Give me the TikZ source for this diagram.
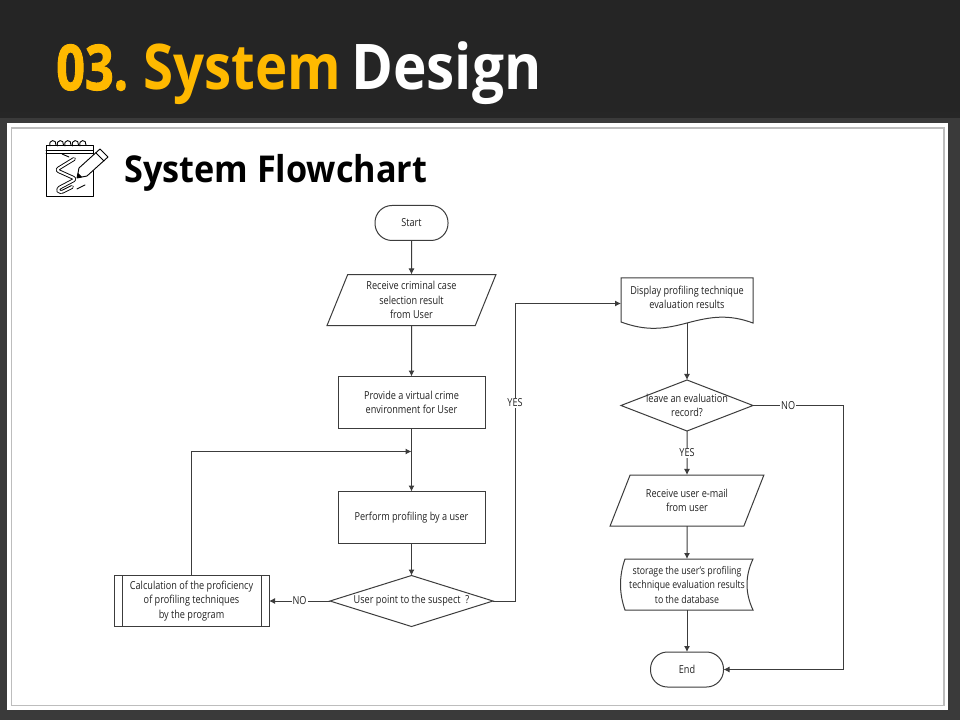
\documentclass[tikz,border=0pt]{standalone}
\usepackage{fontspec}
\setmainfont[FakeStretch=0.83]{Open Sans}
\newfontfamily\titlefont[FakeStretch=0.866]{Open Sans Bold}
\newfontfamily\designfont[FakeStretch=0.9]{Open Sans Bold}
\newfontfamily\subfont[FakeStretch=0.925]{Open Sans Bold}
\newfontfamily\numfont[FakeStretch=0.8,FakeBold=1.5]{Open Sans Bold}
\usetikzlibrary{arrows.meta,positioning,calc,shapes.geometric}
\definecolor{bandgray}{HTML}{252525}
\definecolor{basegray}{HTML}{3A3A3A}
\definecolor{rimgray}{HTML}{BDBDBD}
\definecolor{amber}{HTML}{FFB900}
\definecolor{linegray}{HTML}{3C3C3C}
\definecolor{textgray}{HTML}{222222}

\begin{document}
\begin{tikzpicture}[
  x=1pt, y=1pt,
  base/.style={draw=linegray, line width=1pt, align=center, text=textgray, inner sep=0pt, outer sep=0pt, font=\fontsize{11}{14.5}\selectfont},
  term/.style={base, rounded corners=17pt, minimum width=73pt, minimum height=35pt},
  proc/.style={base, minimum width=147pt, minimum height=52pt},
  sub/.style={base, minimum width=155pt, minimum height=51pt},
  dec/.style={base, diamond, aspect=3, minimum height=51pt, inner sep=-14pt},
  io/.style={base, trapezium, trapezium left angle=66.7, trapezium right angle=113.3, trapezium stretches=true, inner xsep=14pt, minimum height=51pt},
  plain/.style={base, draw=none},
  arr/.style={-{Latex[length=6pt,width=6pt]}, draw=linegray, line width=1pt},
  lbl/.style={fill=white, inner sep=1pt, text=textgray, font=\fontsize{11}{12}\selectfont},
  head/.style={inner sep=0pt, anchor=base west},
  icon/.style={black, line width=0.9pt, line cap=round, line join=round}
]
\useasboundingbox (0,0) rectangle (960,720);

% backdrop
\fill[basegray] (0,0) rectangle (960,720);
\fill[bandgray] (0,720) rectangle (960,612);
\fill[top color=bandgray, bottom color=black!85] (0,612) rectangle (960,602);
\fill[white] (7,10) rectangle (948,597);
\draw[rimgray, line width=1.2pt] (11.5,14.5) rectangle (944,592);

% title
\node[head, text=amber, font=\numfont\fontsize{63}{63}\selectfont] (num) at (56,630) {03.};
\node[head, text=amber, font=\titlefont\fontsize{63}{63}\selectfont] (sys) at (143,630) {System};
\node[head, text=white, font=\designfont\fontsize{63}{63}\selectfont] (des) at (351,630) {Design};
\node[head, text=black, font=\subfont\fontsize{37}{37}\selectfont] (subt) at (124,537) {System Flowchart};

% notepad icon
\draw[icon, fill=white] (46,524) rectangle (93,575);
\draw[icon] (46,570) -- (93,570) (46,567) -- (93,567);
\foreach \i in {0,1,2,3,4}
  \draw[icon] ({50+7.5*\i},574) .. controls ({48+7.5*\i},581) and ({57+7.5*\i},581) .. ({56+7.5*\i},575);
\draw[icon, double=white, double distance=2pt, rounded corners=3pt] (74,561) -- (56,550) -- (76,541) -- (57,531) -- (60,527) -- (72,533);
\draw[icon] (62,566) -- (69,563) (77,531) -- (85,535);
\draw[icon, fill=white] (77,542) -- (79,552) -- (100,571) -- (108,563) -- (87,544) -- cycle;
\draw[icon] (96,567) -- (104,559);
\fill[black] (77,542) -- (78,547) -- (82,543) -- cycle;

% left column
\node[term] (start) at (411.5,497) {Start};
\node[io, minimum width=169pt, inner ysep=3.5pt, below=34pt of start] (recv) {Receive criminal case\\selection result\\from User};
\node[proc, below=51pt of recv] (virt) {Provide a virtual crime\\environment for User};
\node[proc, below=63pt of virt] (perf) {Perform profiling by a user};
\node[dec, minimum width=163pt, below=32pt of perf] (point) {User point to the suspect\ \ ?};
\node[sub, left=61pt of point] (calc) {Calculation of the proficiency\\of profiling techniques\\by the program};
\draw[base] ($(calc.north west)+(8,0)$) -- ($(calc.south west)+(8,0)$);
\draw[base] ($(calc.north east)+(-8,0)$) -- ($(calc.south east)+(-8,0)$);

% right column
\node[plain, minimum width=132pt, minimum height=39pt] (disp) at (687,422.5) {Display profiling technique\\evaluation results};
\draw[base] (disp.north west) -- (disp.north east) -- ++(0,-45)
  to[out=160,in=15] ([yshift=-6]disp.south)
  to[out=195,in=-20] ($(disp.north west)+(0,-44)$) -- cycle;
\node[dec, minimum width=132pt, below=63pt of disp] (keep) {leave an evaluation\\record?};
\node[io, minimum width=154pt, inner ysep=11pt, below=44pt of keep] (mail) {Receive user e-mail\\from user};
\node[plain, font=\fontsize{10.6}{14.5}\selectfont, minimum width=132pt, minimum height=51pt, below=33pt of mail] (store) {storage the user's profiling\\technique evaluation results\\to the database};
\draw[base] ($(store.north west)+(4,0)$) -- (store.north east)
  .. controls ++(-8,-17) and ++(-8,17) .. (store.south east)
  -- ($(store.south west)+(4,0)$)
  .. controls ++(-6,17) and ++(-6,-17) .. cycle;
\node[term, below=42pt of store] (end) {End};

% connectors
\draw[arr] (start) -- (recv);
\draw[arr] (recv) -- (virt);
\draw[arr] (virt) -- (perf);
\draw[arr] (perf) -- (point);
\draw[arr] (point) -- node[lbl] {NO} (calc);
\coordinate (merge) at ($(virt.south)!0.365!(perf.north)$);
\draw[arr] (calc.north) |- (merge);
\coordinate (turnA) at ($(point.east)+(22,0)$);
\coordinate (turnB) at (turnA |- {$(disp.west)+(0,-6)$});
\draw[arr] (point.east) -- (turnA) -- node[lbl, pos=0.667] {YES} (turnB) -- ([yshift=-6]disp.west);
\draw[arr] ([yshift=-6]disp.south) -- (keep);
\draw[arr] (keep) -- node[lbl] {YES} (mail);
\draw[arr] (mail) -- (store);
\draw[arr] (store) -- (end);
\coordinate (turnC) at ($(keep.east)+(90,0)$);
\coordinate (turnD) at (turnC |- end.east);
\draw[arr] (keep.east) -- node[lbl, pos=0.39] {NO} (turnC) -- (turnD) -- (end.east);
\end{tikzpicture}
\end{document}
